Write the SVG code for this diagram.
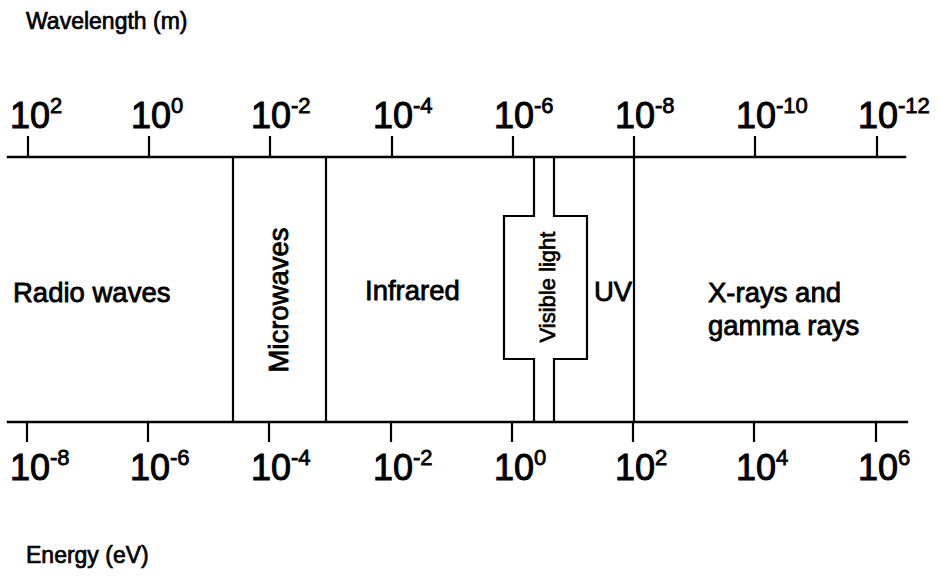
<svg xmlns="http://www.w3.org/2000/svg" width="939" height="583" viewBox="0 0 939 583">
<style>
.ln{stroke:#000;stroke-width:2.4;fill:none;stroke-linecap:square}
.tk{stroke:#000;stroke-width:2.2;fill:none}
text{font-family:"Liberation Sans",Arial,sans-serif;fill:#000;stroke:#000;stroke-width:0.8}
.ax{font-size:36px;stroke-width:1}
.ex{font-size:22px;stroke-width:0.8}
.lb{font-size:27.5px}
.tt{font-size:23px;stroke-width:0.7}
</style>
<rect width="939" height="583" fill="#fff"/>
<g id="connectors">
<path class="ln" d="M8,157H905M8,422H907"/>
<path class="tk" d="M28,136V157M149,136V157M270,136V157M392,136V157M513,136V157M634,136V157M755,136V157M877,136V157"/>
<path class="tk" d="M27,422V442M148,422V442M269,422V442M391,422V442M512,422V442M633,422V442M754,422V442M876,422V442"/>
<path class="tk" d="M233,157V422M326,157V422M634,157V422"/>
<path class="tk" d="M534,157V216H504V359H534V422M554,157V216H587V359H554V422"/>
</g>
<g id="title-wavelength"><text class="tt" x="26" y="29">Wavelength (m)</text></g>
<g id="title-energy"><text class="tt" x="26" y="563">Energy (eV)</text></g>
<g id="top-labels">
<text x="10" y="128"><tspan class="ax">10</tspan><tspan class="ex" dy="-15">2</tspan></text>
<text x="131" y="128"><tspan class="ax">10</tspan><tspan class="ex" dy="-15">0</tspan></text>
<text x="251" y="128"><tspan class="ax">10</tspan><tspan class="ex" dy="-15">-2</tspan></text>
<text x="373" y="128"><tspan class="ax">10</tspan><tspan class="ex" dy="-15">-4</tspan></text>
<text x="494" y="128"><tspan class="ax">10</tspan><tspan class="ex" dy="-15">-6</tspan></text>
<text x="615" y="128"><tspan class="ax">10</tspan><tspan class="ex" dy="-15">-8</tspan></text>
<text x="736" y="128"><tspan class="ax">10</tspan><tspan class="ex" dy="-15">-10</tspan></text>
<text x="858" y="128"><tspan class="ax">10</tspan><tspan class="ex" dy="-15">-12</tspan></text>
</g>
<g id="bottom-labels">
<text x="10" y="480"><tspan class="ax">10</tspan><tspan class="ex" dy="-15">-8</tspan></text>
<text x="130" y="480"><tspan class="ax">10</tspan><tspan class="ex" dy="-15">-6</tspan></text>
<text x="251" y="480"><tspan class="ax">10</tspan><tspan class="ex" dy="-15">-4</tspan></text>
<text x="373" y="480"><tspan class="ax">10</tspan><tspan class="ex" dy="-15">-2</tspan></text>
<text x="494" y="480"><tspan class="ax">10</tspan><tspan class="ex" dy="-15">0</tspan></text>
<text x="615" y="480"><tspan class="ax">10</tspan><tspan class="ex" dy="-15">2</tspan></text>
<text x="736" y="480"><tspan class="ax">10</tspan><tspan class="ex" dy="-15">4</tspan></text>
<text x="858" y="480"><tspan class="ax">10</tspan><tspan class="ex" dy="-15">6</tspan></text>
</g>
<g id="radio"><text class="lb" x="13" y="302">Radio waves</text></g>
<g id="microwaves"><text class="lb" text-anchor="middle" transform="translate(288,300) rotate(-90)">Microwaves</text></g>
<g id="infrared"><text class="lb" x="365" y="300">Infrared</text></g>
<g id="visible"><text text-anchor="middle" style="font-size:22px;stroke-width:0.7" transform="translate(555,287) rotate(-90)">Visible light</text></g>
<g id="uv"><text class="lb" x="594" y="301">UV</text></g>
<g id="xrays"><text class="lb" x="708" y="302">X-rays and</text><text class="lb" x="708" y="335">gamma rays</text></g>
</svg>
